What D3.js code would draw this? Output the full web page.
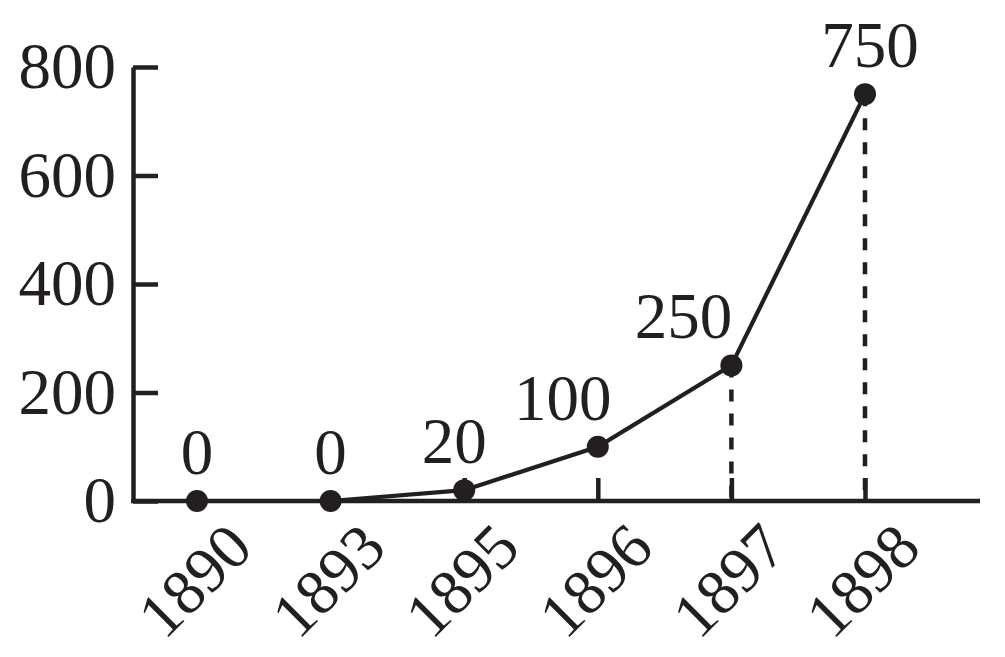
<!DOCTYPE html>
<html>
<head>
<meta charset="utf-8">
<script src="https://cdn.jsdelivr.net/npm/d3@7"></script>
<style>
  body { margin: 0; background: #fff; }
  svg text { font-family: "Liberation Serif", "Times New Roman", serif; fill: #231f20; }
</style>
</head>
<body>
<svg id="chart" width="1005" height="657"></svg>
<script>
// data
var years = ["1890", "1893", "1895", "1896", "1897", "1898"];
var values = [0, 0, 20, 100, 250, 750];
var yTicks = [0, 200, 400, 600, 800];

var ink = "#231f20";
var svg = d3.select("#chart");

var axisLeftX = 133, axisBottomY = 501;

var x = d3.scalePoint().domain(years).range([197, 865]);
var y = d3.scaleLinear().domain([0, 800]).range([axisBottomY, 67]);

var data = years.map(function(d, i) { return { year: d, value: values[i] }; });

// y axis, ticks point inward
var yAxis = svg.append("g")
    .attr("transform", "translate(" + axisLeftX + ",0)")
    .call(d3.axisLeft(y).tickValues(yTicks).tickSizeInner(-25).tickSizeOuter(0).tickPadding(17));
yAxis.select(".domain").attr("stroke", ink).attr("stroke-width", 4.5);
yAxis.selectAll(".tick line").attr("stroke", ink).attr("stroke-width", 4.5);
yAxis.selectAll(".tick text").style("font-size", "65px").attr("fill", ink);

// x axis: ticks up (hidden where a dot sits on the axis), rotated labels drawn by hand
var xAxis = svg.append("g")
    .attr("transform", "translate(0," + axisBottomY + ")")
    .call(d3.axisBottom(x).tickSizeInner(-23).tickSizeOuter(0).tickFormat(""));
xAxis.select(".domain").remove();
xAxis.selectAll(".tick line")
    .attr("stroke", ink)
    .attr("stroke-width", 4.5)
    .attr("display", function(d, i) { return values[i] === 0 ? "none" : null; });

svg.append("line")
    .attr("x1", axisLeftX - 2).attr("x2", 980)
    .attr("y1", axisBottomY).attr("y2", axisBottomY)
    .attr("stroke", ink).attr("stroke-width", 4.5);

svg.selectAll(".xlabel")
    .data(years)
    .enter()
    .append("text")
    .attr("class", "xlabel")
    .attr("text-anchor", "middle")
    .attr("dy", "0.35em")
    .style("font-size", "64px")
    .attr("transform", function(d) {
        return "translate(" + (x(d) - 3) + ",580) rotate(-45)";
    })
    .text(function(d) { return d; });

// dashed drop lines for the big values
svg.selectAll(".drop")
    .data(data.filter(function(d) { return d.value >= 200; }))
    .enter()
    .append("line")
    .attr("class", "drop")
    .attr("x1", function(d) { return x(d.year); })
    .attr("x2", function(d) { return x(d.year); })
    .attr("y1", function(d) { return y(d.value); })
    .attr("y2", axisBottomY)
    .attr("stroke", ink)
    .attr("stroke-width", 4.5)
    .attr("stroke-dasharray", "12,12");

// line
var line = d3.line()
    .x(function(d) { return x(d.year); })
    .y(function(d) { return y(d.value); });

svg.append("path")
    .datum(data)
    .attr("d", line)
    .attr("fill", "none")
    .attr("stroke", ink)
    .attr("stroke-width", 4.2);

svg.selectAll(".dot")
    .data(data)
    .enter()
    .append("circle")
    .attr("class", "dot")
    .attr("cx", function(d) { return x(d.year); })
    .attr("cy", function(d) { return y(d.value); })
    .attr("r", 11)
    .attr("fill", ink);

// value labels, nudged left where the line climbs
var labelShift = [0, 0, -10, -35, -48, 5];
svg.selectAll(".vlabel")
    .data(data)
    .enter()
    .append("text")
    .attr("class", "vlabel")
    .attr("text-anchor", "middle")
    .style("font-size", "65px")
    .attr("x", function(d, i) { return x(d.year) + labelShift[i]; })
    .attr("y", function(d) { return y(d.value) - 27; })
    .text(function(d) { return d.value; });
</script>
</body>
</html>
